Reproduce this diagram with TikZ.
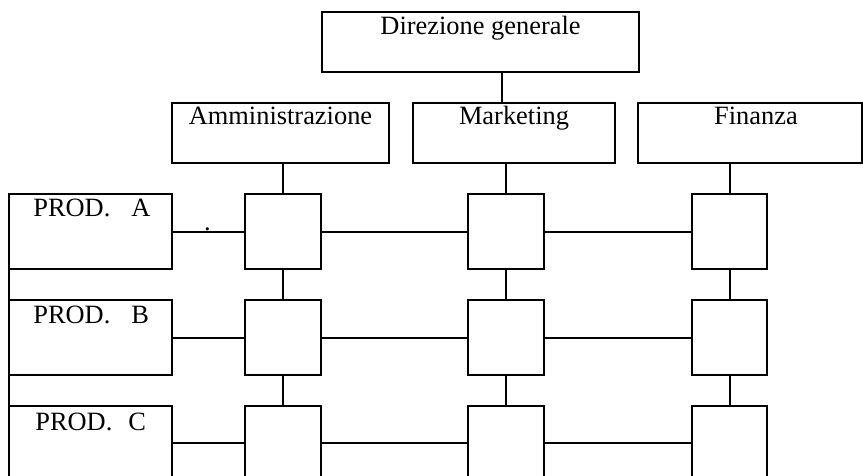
\documentclass[tikz,border=0pt]{standalone}
\usepackage{fontspec}
\setmainfont{Liberation Serif}
\usetikzlibrary{fit}
\begin{document}
\begin{tikzpicture}[x=0.5pt,y=-0.5pt,
  box/.style={draw, line width=1pt, inner sep=0pt, outer sep=0pt},
  lbl/.style={anchor=base, inner sep=0pt, font=\fontsize{13.2}{15}\selectfont},
  lblw/.style={lbl, anchor=base west},
  conn/.style={line width=1pt}]
\useasboundingbox (0,0) rectangle (863,476);
\clip (0,0) rectangle (863,476);
% top level
\node[box, fit={(322,12)(639,72)}] (dg) {};
\node[box, fit={(172,103)(389,163)}] (am) {};
\node[box, fit={(413,103)(615,163)}] (mk) {};
\node[box, fit={(638,103)(862,163)}] (fi) {};
% products
\node[box, fit={(9,194)(172,269)}] (pa) {};
\node[box, fit={(9,300)(172,375)}] (pb) {};
\node[box, fit={(9,406)(172,481)}] (pc) {};
% matrix cells
\node[box, fit={(245,194)(321,269)}] (a1) {};
\node[box, fit={(245,300)(321,375)}] (a2) {};
\node[box, fit={(245,406)(321,481)}] (a3) {};
\node[box, fit={(468,194)(544,269)}] (m1) {};
\node[box, fit={(468,300)(544,375)}] (m2) {};
\node[box, fit={(468,406)(544,481)}] (m3) {};
\node[box, fit={(692,194)(767,269)}] (f1) {};
\node[box, fit={(692,300)(767,375)}] (f2) {};
\node[box, fit={(692,406)(767,481)}] (f3) {};
% labels
\node[lbl] (tdg) at (480.5,35) {Direzione generale};
\node[lbl] (tam) at (280.5,125) {Amministrazione};
\node[lbl] (tmk) at (514,125) {Marketing};
\node[lbl] (tfi) at (756,125) {Finanza};
\node[lblw] (tpa) at (33,217) {PROD.\hspace{10.5pt}A};
\node[lblw] (tpb) at (33,323) {PROD.\hspace{10.5pt}B};
\node[lblw] (tpc) at (35,430) {PROD.\hspace{8pt}C};
\node[lbl] (dot) at (207.5,230) {.};
% connectors
\coordinate (dgx) at (502,0);
\draw[conn] (dg.south -| dgx) -- (mk.north -| dgx);
\draw[conn] (am.south -| a1.north) -- (a1.north);
\draw[conn] (mk.south -| m1.north) -- (m1.north);
\draw[conn] (fi.south -| f1.north) -- (f1.north);
\draw[conn] (a1.south) -- (a2.north);
\draw[conn] (a2.south) -- (a3.north);
\draw[conn] (m1.south) -- (m2.north);
\draw[conn] (m2.south) -- (m3.north);
\draw[conn] (f1.south) -- (f2.north);
\draw[conn] (f2.south) -- (f3.north);
\draw[conn] (pa.south west) -- (pb.north west);
\draw[conn] (pb.south west) -- (pc.north west);
\coordinate (r1) at (0,232);
\coordinate (r2) at (0,338);
\coordinate (r3) at (0,443);
\draw[conn] (pa.east |- r1) -- (a1.west |- r1);
\draw[conn] (a1.east |- r1) -- (m1.west |- r1);
\draw[conn] (m1.east |- r1) -- (f1.west |- r1);
\draw[conn] (pb.east |- r2) -- (a2.west |- r2);
\draw[conn] (a2.east |- r2) -- (m2.west |- r2);
\draw[conn] (m2.east |- r2) -- (f2.west |- r2);
\draw[conn] (pc.east |- r3) -- (a3.west |- r3);
\draw[conn] (a3.east |- r3) -- (m3.west |- r3);
\draw[conn] (m3.east |- r3) -- (f3.west |- r3);
\end{tikzpicture}
\end{document}
